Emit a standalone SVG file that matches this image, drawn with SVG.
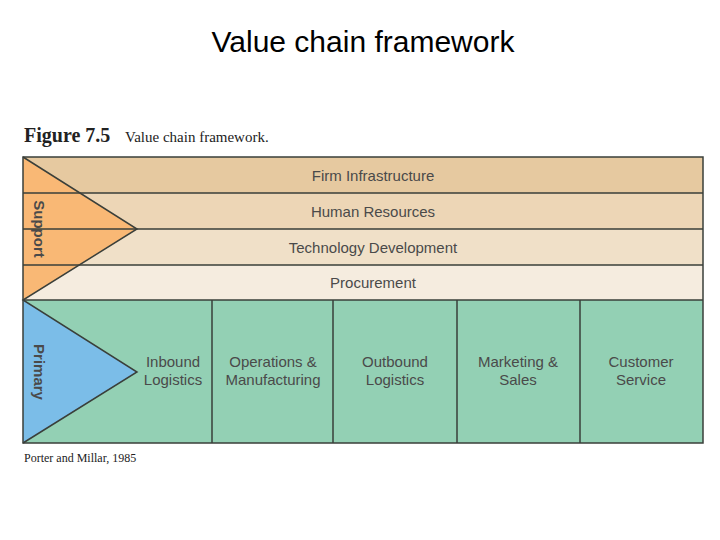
<svg xmlns="http://www.w3.org/2000/svg" width="720" height="540" viewBox="0 0 720 540">
<style>
.ln{stroke:#3a3f3a;stroke-width:1.5;fill:none}
.t{font-family:"Liberation Sans",Arial,sans-serif;font-size:15px;fill:#4a4a4a;text-anchor:middle}
.s{font-family:"Liberation Serif","Times New Roman",serif;fill:#222}
</style>
<rect width="720" height="540" fill="#fff"/>
<text x="363" y="52" font-family="Liberation Sans,Arial,sans-serif" font-size="30" text-anchor="middle" fill="#000">Value chain framework</text>
<text x="24" y="142" class="s" font-size="20" font-weight="bold">Figure 7.5</text>
<text x="125" y="142" class="s" font-size="15">Value chain framework.</text>
<g id="firm"><rect x="23" y="157" width="680" height="36" fill="#e6c9a0"/><text x="373" y="181" class="t">Firm Infrastructure</text></g>
<g id="hr"><rect x="23" y="193" width="680" height="36" fill="#edd6b6"/><text x="373" y="217" class="t">Human Resources</text></g>
<g id="tech"><rect x="23" y="229" width="680" height="36" fill="#f0e0c8"/><text x="373" y="253" class="t">Technology Development</text></g>
<g id="proc"><rect x="23" y="265" width="680" height="35" fill="#f5ecdf"/><text x="373" y="288" class="t">Procurement</text></g>
<g id="primaryArea"><rect x="23" y="300" width="680" height="143" fill="#93d0b4"/></g>
<g id="support"><polygon points="23,157 137,229 23,300" fill="#f9b875"/><text transform="translate(34,229) rotate(90)" class="t" font-weight="bold" fill="#444">Support</text></g>
<g id="primary"><polygon points="23,300 137,372 23,443" fill="#7bbde8"/><text transform="translate(34,372) rotate(90)" class="t" font-weight="bold" fill="#444">Primary</text></g>
<g id="inbound"><text x="173" y="367" class="t">Inbound</text><text x="173" y="385" class="t">Logistics</text></g>
<g id="ops"><text x="273" y="367" class="t">Operations &amp;</text><text x="273" y="385" class="t">Manufacturing</text></g>
<g id="outbound"><text x="395" y="367" class="t">Outbound</text><text x="395" y="385" class="t">Logistics</text></g>
<g id="marketing"><text x="518" y="367" class="t">Marketing &amp;</text><text x="518" y="385" class="t">Sales</text></g>
<g id="service"><text x="641" y="367" class="t">Customer</text><text x="641" y="385" class="t">Service</text></g>
<g id="connectors" class="ln">
<rect x="23" y="157" width="680" height="286"/>
<path d="M23 193H703M23 229H703M23 265H703M23 300H703"/>
<path d="M23 157L137 229L23 300L137 372L23 443"/>
<path d="M212 300V443M333 300V443M457 300V443M580 300V443"/>
</g>
<text x="24" y="462" class="s" font-size="12">Porter and Millar, 1985</text>
</svg>
